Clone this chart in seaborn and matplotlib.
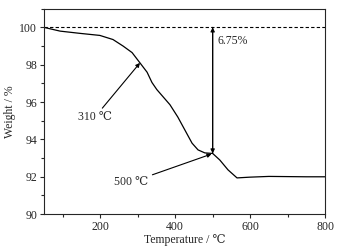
import pandas as pd
import seaborn as sns
import matplotlib.pyplot as plt
from matplotlib.ticker import MultipleLocator

# TG curve
temperature = [50, 93, 146, 199, 234, 261, 285, 306, 325, 338, 351, 367, 386,
               407, 426, 445, 461, 479, 500, 519, 541, 565, 599, 650, 700, 750, 800]
weight = [100.0, 99.8, 99.68, 99.57, 99.35, 99.0, 98.65, 98.1, 97.6, 97.05, 96.67, 96.3, 95.86,
          95.2, 94.5, 93.8, 93.44, 93.28, 93.25, 92.9, 92.37, 91.94, 91.98, 92.02, 92.01, 92.0, 92.0]

df = pd.DataFrame({"Temperature": temperature, "Weight": weight})

sns.set_style("ticks")
plt.rcParams['font.family'] = ['Liberation Serif', 'DejaVu Serif']
plt.rcParams['font.size'] = 8.5

fig, ax = plt.subplots(figsize=(3.44, 2.49), dpi=100)
sns.lineplot(data=df, x="Temperature", y="Weight", color="black", linewidth=0.9, ax=ax)

# reference line at 100 %
ax.axhline(100, color="black", linestyle="--", linewidth=0.8, dashes=(3, 2))

# mass loss arrow
arrow = dict(arrowstyle="-|>", color="black", lw=0.8, mutation_scale=6, shrinkA=0, shrinkB=0)
ax.annotate("", xy=(500, 100), xytext=(500, 93.25), arrowprops=arrow)
ax.annotate("", xy=(500, 93.25), xytext=(500, 100), arrowprops=arrow)
ax.text(513, 99.6, "6.75%", ha="left", va="top", fontsize=8.5)

ax.annotate("310 ℃", xy=(306, 98.1), xytext=(185, 95.5),
            ha="center", va="top", fontsize=8.5, arrowprops=arrow)
ax.annotate("500 ℃", xy=(497, 93.22), xytext=(327, 91.7),
            ha="right", va="center", fontsize=8.5,
            arrowprops=dict(arrow, shrinkA=1))

ax.set_xlim(50, 800)
ax.set_ylim(90, 101)
ax.xaxis.set_major_locator(MultipleLocator(200))
ax.xaxis.set_minor_locator(MultipleLocator(100))
ax.yaxis.set_major_locator(MultipleLocator(2))
ax.yaxis.set_minor_locator(MultipleLocator(1))
ax.tick_params(which="both", direction="out", top=False, right=False, width=0.8)
ax.tick_params(which="major", length=3, pad=2)
ax.tick_params(which="minor", length=2)
for s in ax.spines.values():
    s.set_linewidth(0.8)

ax.set_xlabel("Temperature / ℃", labelpad=1)
ax.set_ylabel("Weight / %", labelpad=2)

fig.subplots_adjust(left=0.128, right=0.945, top=0.965, bottom=0.14)
fig.savefig("out.png", dpi=100)
